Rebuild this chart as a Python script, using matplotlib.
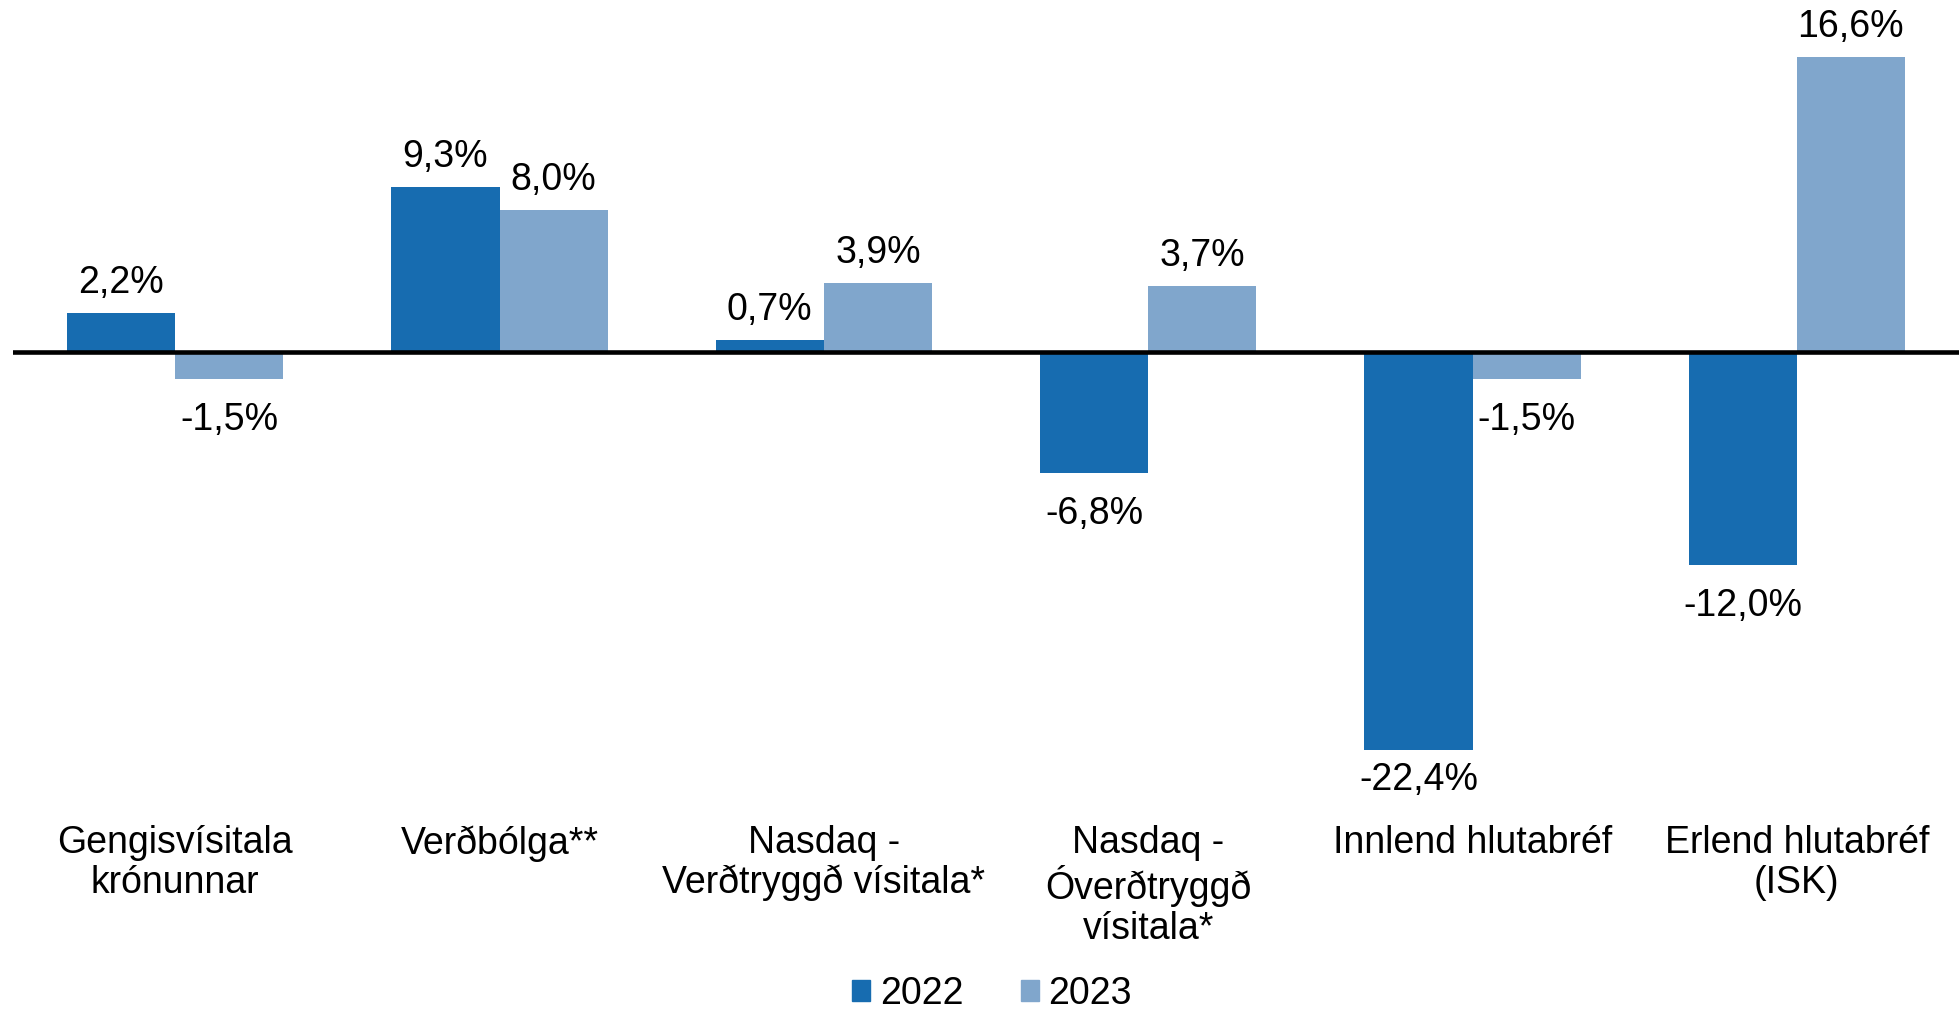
import matplotlib
matplotlib.use("Agg")
import matplotlib.pyplot as plt
from matplotlib.patches import Patch
import numpy as np

categories = ["Gengisvísitala\nkrónunnar", "Verðbólga**", "Nasdaq -\nVerðtryggð vísitala*",
              "Nasdaq -\nÓverðtryggð\nvísitala*", "Innlend hlutabréf", "Erlend hlutabréf\n(ISK)"]
series_names = ["2022", "2023"]
values_2022 = [2.2, 9.3, 0.7, -6.8, -22.4, -12.0]
values_2023 = [-1.5, 8.0, 3.9, 3.7, -1.5, 16.6]

c2022 = "#176CB0"
c2023 = "#80A6CC"

plt.rcParams['font.family'] = ['Liberation Sans', 'DejaVu Sans']
W, H, DPI = 1959, 1010, 100
fig = plt.figure(figsize=(W / DPI, H / DPI), dpi=DPI)
ax = fig.add_axes([13 / W, 0, 1946 / W, 1])

ymin, ymax = -36.99, 19.79
ax.set_xlim(-0.5, 5.5)
ax.set_ylim(ymin, ymax)
ppu = H / (ymax - ymin)  # pixels per unit

x = np.arange(len(categories))
w = 1 / 3
ax.bar(x - w / 2, values_2022, width=w, color=c2022, zorder=2)
ax.bar(x + w / 2, values_2023, width=w, color=c2023, zorder=2)
ax.axhline(0, color="black", lw=3.3, zorder=3)

fs = 27
lowest_baseline = -(790 - 352) / ppu
for xs, vals in ((x - w / 2, values_2022), (x + w / 2, values_2023)):
    for xi, v in zip(xs, vals):
        lab = f"{v:.1f}%".replace(".", ",")
        if v >= 0:
            y = v + 20 / ppu
        else:
            y = max(v - 51 / ppu, lowest_baseline)
        ax.text(xi, y, lab, ha="center", va="baseline", fontsize=fs, color="black")

trans = ax.get_xaxis_transform()
for xi, cat in zip(x, categories):
    ax.text(xi, 1 - 825 / H, cat, transform=trans, ha="center", va="top",
            fontsize=fs, linespacing=1.13, multialignment="center")

for s in ax.spines.values():
    s.set_visible(False)
ax.set_xticks([])
ax.set_yticks([])

handles = [Patch(color=c2022), Patch(color=c2023)]
fig.legend(handles, series_names, loc="center", bbox_to_anchor=(992 / W, 1 - 994 / H),
           ncol=2, frameon=False, fontsize=fs, handlelength=0.48, handleheight=0.48,
           handletextpad=0.27, columnspacing=1.52, borderpad=0, borderaxespad=0)

fig.savefig("out.png", dpi=DPI)
